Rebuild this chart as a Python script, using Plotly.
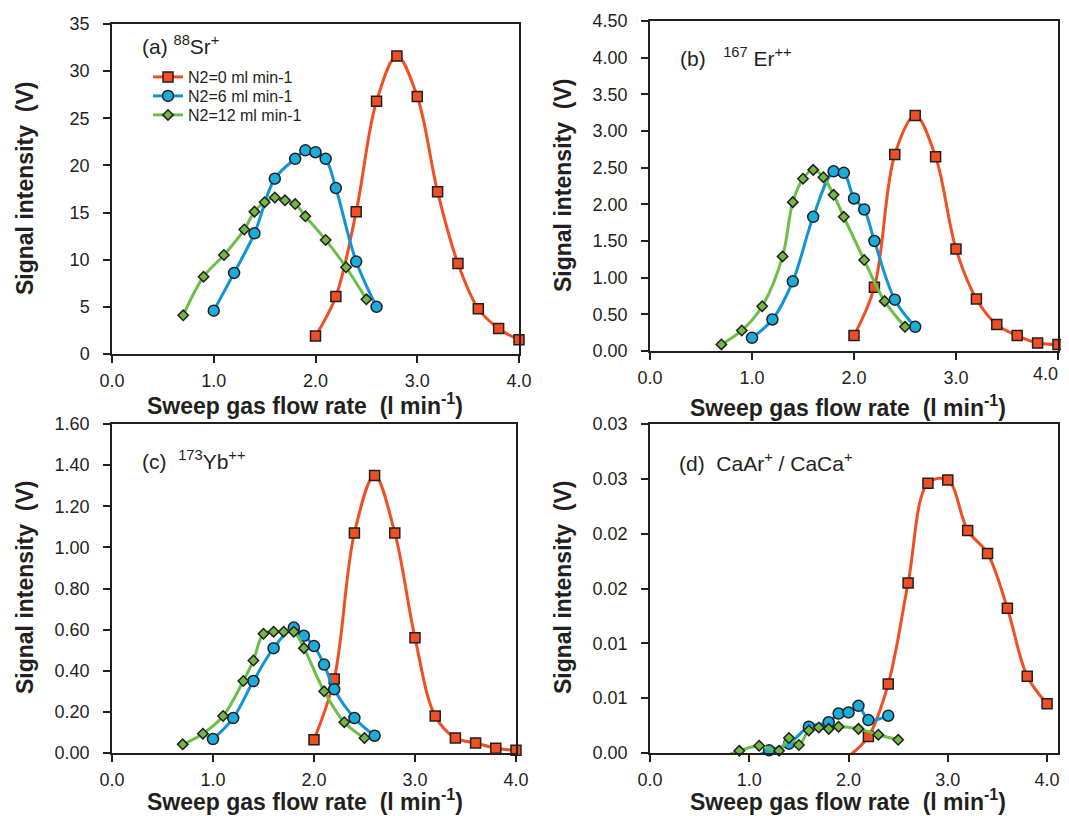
import plotly.graph_objects as go

# ---------------- data ----------------
x_red = [2.0, 2.2, 2.4, 2.6, 2.8, 3.0, 3.2, 3.4, 3.6, 3.8, 4.0]
x_blue = [1.0, 1.2, 1.4, 1.6, 1.8, 1.9, 2.0, 2.1, 2.2, 2.4, 2.6]
x_green = [0.7, 0.9, 1.1, 1.3, 1.4, 1.5, 1.6, 1.7, 1.8, 1.9, 2.1, 2.3, 2.5]

# (a) 88Sr+
a_red = [1.9, 6.1, 15.1, 26.8, 31.6, 27.3, 17.2, 9.6, 4.8, 2.7, 1.5]
a_blue = [4.6, 8.6, 12.8, 18.6, 20.7, 21.6, 21.4, 20.7, 17.6, 9.8, 5.0]
a_green = [4.1, 8.2, 10.5, 13.2, 15.1, 16.1, 16.6, 16.3, 15.9, 14.6, 12.1, 9.2, 5.8]

# (b) 167Er++
b_red = [0.21, 0.87, 2.68, 3.21, 2.65, 1.39, 0.71, 0.36, 0.21, 0.11, 0.09]
b_blue = [0.18, 0.43, 0.95, 1.83, 2.45, 2.43, 2.08, 1.93, 1.50, 0.70, 0.33]
b_green = [0.09, 0.28, 0.61, 1.29, 2.03, 2.35, 2.47, 2.37, 2.13, 1.83, 1.24, 0.68, 0.33]

# (c) 173Yb++
c_red = [0.065, 0.36, 1.07, 1.35, 1.07, 0.56, 0.18, 0.073, 0.049, 0.023, 0.013]
c_blue = [0.068, 0.17, 0.35, 0.51, 0.61, 0.57, 0.52, 0.43, 0.31, 0.17, 0.084]
c_green = [0.042, 0.094, 0.18, 0.35, 0.45, 0.58, 0.59, 0.59, 0.59, 0.51, 0.30, 0.15, 0.073]

# (d) CaAr+ / CaCa+
d_x_blue = [1.0, 1.2, 1.4, 1.6, 1.8, 1.9, 2.0, 2.1, 2.2, 2.4]
d_red = [-0.0003, 0.0015, 0.0063, 0.0155, 0.0246, 0.0249, 0.0203, 0.0182, 0.0132, 0.0070, 0.0045]
d_blue = [-0.0006, 0.00024, 0.00085, 0.0024, 0.0028, 0.0036, 0.0037, 0.0043, 0.0030, 0.0034]
d_green = [-0.0005, 0.0002, 0.00066, 0.0002, 0.00137, 0.00073, 0.00206, 0.00233, 0.0022,
           0.0024, 0.0022, 0.00167, 0.0012]

series_names = ["N2=0 ml min-1", "N2=6 ml min-1", "N2=12 ml min-1"]

x_ticks = [0, 1, 2, 3, 4]
x_ticktext = ["0.0", "1.0", "2.0", "3.0", "4.0"]
d_ytickvals = [0, 0.005, 0.01, 0.015, 0.02, 0.025, 0.03]
d_yticktext = ["0.00", "0.01", "0.01", "0.02", "0.02", "0.03", "0.03"]

panel_labels = [
    "(a) <sup>88</sup>Sr<sup>+</sup>",
    "(b)   <sup>167</sup> Er<sup>++</sup>",
    "(c)  <sup>173</sup>Yb<sup>++</sup>",
    "(d)  CaAr<sup>+</sup> / CaCa<sup>+</sup>",
]

# ---------------- style ----------------
FONT = "Arial, 'Liberation Sans', sans-serif"
INK = "#231F20"
RED_L, RED_M = "#F04E23", "#F04E23"
BLUE_L, BLUE_M = "#0F95D6", "#1AACDA"
GREEN_L, GREEN_M = "#6BBE47", "#72B845"

# page has an 8px body margin: figure origin sits at (8, 8) on screen
OFF = 8
W, H = 1069 - OFF, 816 - OFF


def px_x(v):
    return (v - OFF) / W


def px_y(v):
    return 1 - (v - OFF) / H


styles = [
    dict(name=series_names[0], lc=RED_L, mc=RED_M, sym="square", size=10),
    dict(name=series_names[1], lc=BLUE_L, mc=BLUE_M, sym="circle", size=11),
    dict(name=series_names[2], lc=GREEN_L, mc=GREEN_M, sym="diamond", size=8),
]
legend_ids = ["legend", "legend2", "legend3"]
legend_rows = [77, 96, 115]

panels = [
    dict(xs=[x_red, x_blue, x_green], ys=[a_red, a_blue, a_green], legend=True),
    dict(xs=[x_red, x_blue, x_green], ys=[b_red, b_blue, b_green], legend=False),
    dict(xs=[x_red, x_blue, x_green], ys=[c_red, c_blue, c_green], legend=False),
    dict(xs=[x_red, d_x_blue, x_green], ys=[d_red, d_blue, d_green], legend=False),
]

fig = go.Figure()

for i, p in enumerate(panels):
    ax = "" if i == 0 else str(i + 1)
    for k, (s, xs, ys) in enumerate(zip(styles, p["xs"], p["ys"])):
        fig.add_trace(go.Scatter(
            x=xs, y=ys, name=s["name"], mode="lines+markers",
            xaxis="x" + ax, yaxis="y" + ax,
            showlegend=p["legend"], legend=legend_ids[k], cliponaxis=False,
            line=dict(color=s["lc"], width=3, shape="spline", smoothing=1.0),
            marker=dict(symbol=s["sym"], size=s["size"], color=s["mc"],
                        opacity=[1 if v >= 0 else 0 for v in ys],
                        line=dict(color=INK, width=1.5)),
        ))

# empty helper trace so the overlay axis of panel (b) gets drawn
fig.add_trace(go.Scatter(x=x_ticks[-1:], y=[None], xaxis="x5", yaxis="y2",
                         mode="markers", showlegend=False, hoverinfo="skip"))

# domains in screen pixels of the reference
dom = [
    dict(x=(112, 519), y=(24, 354)),
    dict(x=(650, 1058), y=(21, 351)),
    dict(x=(112, 516), y=(424, 753)),
    dict(x=(650, 1058), y=(424, 753)),
]
yranges = [[0, 35], [0, 4.5], [0, 1.6], [0, 0.03]]
xranges = [[0, 4], [0, 4], [0, 4], [0, 4.11]]

common = dict(showgrid=False, zeroline=False, showline=True, linecolor=INK, linewidth=1.5,
              mirror=True, ticks="outside", ticklen=7, tickwidth=1.5, tickcolor=INK,
              automargin=False, ticklabeloverflow="allow",
              tickfont=dict(family=FONT, size=18, color=INK))

layout = dict()
for i, d in enumerate(dom):
    ax = "" if i == 0 else str(i + 1)
    ttext = list(x_ticktext)
    if i == 1:
        # last label drawn by an overlay axis, pulled inside the page edge
        ttext[-1] = ""
    xa = dict(common, domain=[px_x(d["x"][0]), px_x(d["x"][1])], anchor="y" + ax,
              range=xranges[i], tickvals=x_ticks, ticktext=ttext, ticklabelstandoff=3)
    ya = dict(common, domain=[px_y(d["y"][1]), px_y(d["y"][0])], anchor="x" + ax,
              range=yranges[i], ticklabelstandoff=10)
    if i == 0:
        ya.update(dtick=5, tick0=0)
    elif i == 1:
        ya.update(dtick=0.5, tick0=0, tickformat=".2f")
    elif i == 2:
        ya.update(dtick=0.2, tick0=0, tickformat=".2f")
    else:
        ya.update(tickvals=d_ytickvals, ticktext=d_yticktext)
    layout["xaxis" + ax] = xa
    layout["yaxis" + ax] = ya

# overlay axis for panel (b): the "4.0" label right-aligned near the edge
layout["xaxis5"] = dict(
    overlaying="x2", anchor="y2", side="bottom", range=xranges[1],
    domain=layout["xaxis2"]["domain"],
    tickvals=[x_ticks[-1]], ticktext=[x_ticktext[-1]],
    ticks="", showline=False, showgrid=False, zeroline=False, automargin=False,
    ticklabelposition="outside left", ticklabelshift=0, ticklabelstandoff=10,
    ticklabeloverflow="allow",
    tickfont=dict(family=FONT, size=18, color=INK),
)

annotations = []
label_pos = [(140, 45), (678, 57), (140, 460), (677, 462)]
for t, (lx, ly) in zip(panel_labels, label_pos):
    annotations.append(dict(text=t, x=px_x(lx), y=px_y(ly), xref="paper", yref="paper",
                            xanchor="left", yanchor="middle", showarrow=False,
                            font=dict(family=FONT, size=21, color=INK)))

xtitle = "<b>Sweep gas flow rate  (l min<sup>-1</sup>)</b>"
ytitle = "<b>Signal intensity  (V)</b>"
for (cx, cy) in [(305, 404), (848, 406), (305, 800), (848, 800)]:
    annotations.append(dict(text=xtitle, x=px_x(cx), y=px_y(cy), xref="paper", yref="paper",
                            xanchor="center", yanchor="middle", showarrow=False,
                            font=dict(family=FONT, size=23, color=INK)))
for (cx, cy) in [(25, 189), (563, 186), (25, 588), (563, 588)]:
    annotations.append(dict(text=ytitle, x=px_x(cx), y=px_y(cy), xref="paper", yref="paper",
                            xanchor="center", yanchor="middle", showarrow=False, textangle=-90,
                            font=dict(family=FONT, size=23, color=INK)))

legend_common = dict(xanchor="left", yanchor="middle", bgcolor="rgba(0,0,0,0)",
                     font=dict(family=FONT, size=16, color=INK), itemwidth=30)
legends = {}
for lid, ry in zip(legend_ids, legend_rows):
    legends[lid] = dict(legend_common, x=px_x(148), y=px_y(ry))

fig.update_layout(
    width=W, height=H, margin=dict(l=0, r=0, t=0, b=0, autoexpand=False),
    paper_bgcolor="white", plot_bgcolor="white",
    font=dict(family=FONT, color=INK),
    annotations=annotations,
    **legends,
    **layout,
)

fig.write_html("out.html")
